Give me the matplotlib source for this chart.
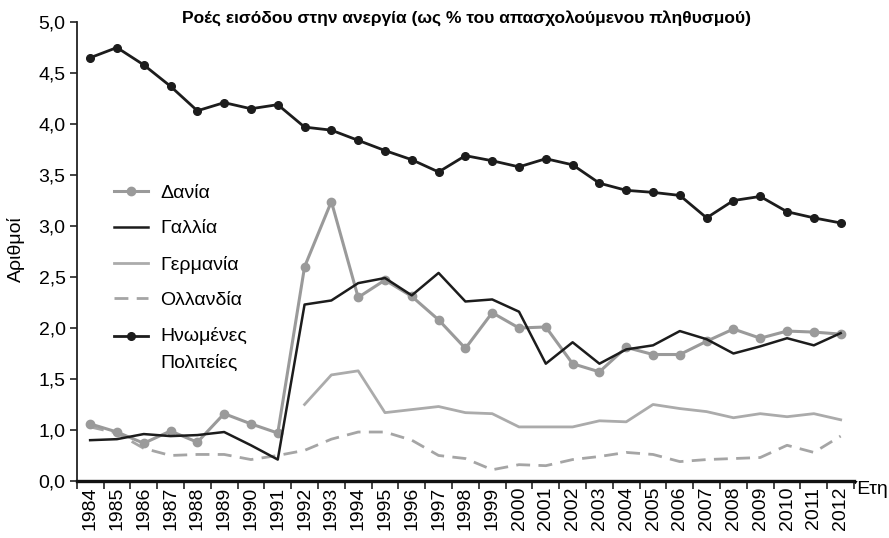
import matplotlib
matplotlib.use("Agg")
import matplotlib.pyplot as plt
from matplotlib.ticker import FixedLocator
from matplotlib.legend_handler import HandlerLine2D

plt.rcParams['font.family'] = ['Liberation Sans Narrow', 'Liberation Sans', 'DejaVu Sans']

years = list(range(1984, 2013))

denmark = [1.06, 0.98, 0.87, 0.99, 0.88, 1.16, 1.06, 0.97, 2.60, 3.24,
           2.30, 2.47, 2.31, 2.08, 1.80, 2.15, 2.00, 2.01, 1.65, 1.57,
           1.81, 1.74, 1.74, 1.87, 1.99, 1.90, 1.97, 1.96, 1.94]
france = [0.90, 0.91, 0.96, 0.94, 0.95, 0.98, 0.85, 0.71, 2.23, 2.27,
          2.44, 2.49, 2.32, 2.54, 2.26, 2.28, 2.16, 1.65, 1.86, 1.65,
          1.79, 1.83, 1.97, 1.89, 1.75, 1.82, 1.90, 1.83, 1.95]
germany_years = list(range(1992, 2013))
germany = [1.25, 1.54, 1.58, 1.17, 1.20, 1.23, 1.17, 1.16, 1.03, 1.03,
           1.03, 1.09, 1.08, 1.25, 1.21, 1.18, 1.12, 1.16, 1.13, 1.16, 1.10]
netherlands = [1.03, 0.97, 0.82, 0.75, 0.76, 0.76, 0.71, 0.75, 0.80, 0.91,
               0.98, 0.98, 0.90, 0.75, 0.72, 0.61, 0.66, 0.65, 0.71, 0.74,
               0.78, 0.76, 0.69, 0.71, 0.72, 0.73, 0.85, 0.78, 0.94]
usa = [4.65, 4.75, 4.58, 4.37, 4.13, 4.21, 4.15, 4.19, 3.97, 3.94,
       3.84, 3.74, 3.65, 3.53, 3.69, 3.64, 3.58, 3.66, 3.60, 3.42,
       3.35, 3.33, 3.30, 3.08, 3.25, 3.29, 3.14, 3.08, 3.03]

# the printed axis has no 0,5 label: bottom tick reads 0,0
ytick_vals = [0.5, 1.0, 1.5, 2.0, 2.5, 3.0, 3.5, 4.0, 4.5, 5.0]
ytick_labels = ['0,0', '1,0', '1,5', '2,0', '2,5', '3,0', '3,5', '4,0', '4,5', '5,0']


class HandlerFirstLine(HandlerLine2D):
    # put the handle next to the first line of a two-line label
    def create_artists(self, legend, orig_handle, xdescent, ydescent,
                       width, height, fontsize, trans):
        return super().create_artists(legend, orig_handle, xdescent,
                                      ydescent - 19, width, height,
                                      fontsize, trans)


fig = plt.figure(figsize=(8.89, 5.38), dpi=100)
ax = fig.add_axes([0.0863, 0.106, 0.8744, 0.853])

ax.plot(years, denmark, color='#9a9a9a', lw=2.2, marker='o', ms=6, label='Δανία', zorder=3)
ax.plot(years, france, color='#1c1c1c', lw=1.8, label='Γαλλία', zorder=4)
ax.plot(germany_years, germany, color='#ababab', lw=2.0, label='Γερμανία', zorder=2)
ax.plot(years, netherlands, color='#a5a5a5', lw=2.0, ls=(0, (5, 3)), label='Ολλανδία', zorder=2)
us_line, = ax.plot(years, usa, color='#1c1c1c', lw=2.0, marker='o', ms=5.5,
                   label='Ηνωμένες\nΠολιτείες', zorder=4)

ax.set_xlim(1983.5, 2012.5)
ax.set_ylim(0.5, 5.0)

ax.set_xticks(years)
ax.set_xticklabels([str(y) for y in years], rotation=90, fontsize=14)
ax.xaxis.set_minor_locator(FixedLocator([y + 0.5 for y in range(1983, 2013)]))
ax.tick_params(axis='x', which='major', length=0, pad=4)
ax.tick_params(axis='x', which='minor', length=6, width=1.2, direction='out', color='#222222')

ax.set_yticks(ytick_vals)
ax.set_yticklabels(ytick_labels, fontsize=14)
ax.tick_params(axis='y', length=5, width=1.2, direction='out', color='#222222', pad=3)

for s in ['top', 'right']:
    ax.spines[s].set_visible(False)
ax.spines['left'].set_linewidth(1.3)
ax.spines['bottom'].set_linewidth(2.4)
ax.spines['left'].set_color('#222222')
ax.spines['bottom'].set_color('#111111')

ax.set_ylabel('Αριθμοί', fontsize=14)
ax.yaxis.set_label_coords(-0.066, 0.505)
fig.text(0.98, 0.091, 'Έτη', fontsize=14, ha='center', va='center')

fig.text(0.525, 0.966, 'Ροές εισόδου στην ανεργία (ως % του απασχολούμενου πληθυσμού)',
         fontsize=12.5, fontweight='bold', ha='center', va='center')

leg = ax.legend(loc='upper left', bbox_to_anchor=(0.026, 0.685), frameon=False,
                fontsize=14, handlelength=1.75, labelspacing=0.93, handletextpad=0.6,
                handler_map={us_line: HandlerFirstLine()})
for t in leg.get_texts():
    t.set_linespacing(1.7)

plt.savefig('out.png', dpi=100)
